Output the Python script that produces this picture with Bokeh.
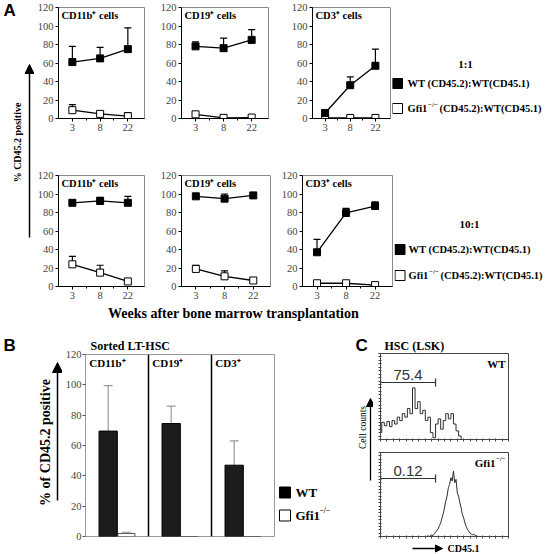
from math import pi
from bokeh.plotting import figure
from bokeh.layouts import row, column
from bokeh.models import (Range1d, Label, Arrow, NormalHead, Whisker, TeeHead, Title,
                          ColumnDataSource, FixedTicker, Span, LinearAxis)
from bokeh.embed import file_html
from bokeh.resources import INLINE

SERIF = "Liberation Serif"
SANS = "Liberation Sans"

# ---------------- data ----------------
weeks = ["3", "8", "22"]
cell_titles = ["CD11b\u207a cells", "CD19\u207a cells", "CD3\u207a cells"]

# ratio 1:1
wt_1to1_cd11b = [61, 65, 75]
wt_1to1_cd11b_sd = [17, 12, 23]
ko_1to1_cd11b = [9, 5, 2.5]
ko_1to1_cd11b_sd = [6, 0, 4]
wt_1to1_cd19 = [78, 76, 85]
wt_1to1_cd19_sd = [5, 11, 11]
ko_1to1_cd19 = [4.5, 0.7, 1]
ko_1to1_cd19_sd = [0, 0, 0]
wt_1to1_cd3 = [6, 36, 57]
wt_1to1_cd3_sd = [0, 9, 18]
ko_1to1_cd3 = [0.6, 0.6, 0.6]
ko_1to1_cd3_sd = [0, 0, 0]

# ratio 10:1
wt_10to1_cd11b = [90.5, 92.5, 90.5]
wt_10to1_cd11b_sd = [0, 4, 7]
ko_10to1_cd11b = [24, 15, 5.5]
ko_10to1_cd11b_sd = [8.5, 8, 0]
wt_10to1_cd19 = [97.5, 95, 98.5]
wt_10to1_cd19_sd = [0, 5, 0]
ko_10to1_cd19 = [19, 11, 6.5]
ko_10to1_cd19_sd = [4, 6, 3]
wt_10to1_cd3 = [37, 79.5, 87]
wt_10to1_cd3_sd = [14, 5, 4.5]
ko_10to1_cd3 = [3.5, 3.5, 1.5]
ko_10to1_cd3_sd = [0, 0, 0]

# panel B
b_categories = ["CD11b\u207a", "CD19\u207a", "CD3\u207a"]
b_wt = [69.5, 74.5, 47]
b_wt_sd = [30, 11.5, 16]
b_ko = [2, 0, 0]
b_ko_sd = [0.8, 0, 0]

# panel C (histograms, % of frame height per channel bin)
wt_hist_bin = 2
wt_hist = [8, 20, 16, 21, 15, 22, 18, 26, 22, 30, 26, 36, 30, 60, 36, 44, 30,
           34, 22, 26, 8, 2, 18, 24, 12, 22, 30, 24, 30, 18, 10, 4, 0]
ko_hist_first_channel = 36
ko_hist = [0, 1, 0, 1, 2, 1, 3, 5, 7, 9, 13, 16, 22, 27, 34, 42, 48, 58, 62, 70,
           66, 78, 64, 68, 52, 48, 40, 34, 26, 22, 16, 12, 8, 6, 4, 3, 2, 3, 1, 1, 0]
gate_lo = [0, 0]
gate_hi = [43, 43]
gate_pct = ["75.4", "0.12"]


# ---------------- helpers ----------------
def base_fig(w, h, bl, br, bt, bb, xr, yr):
    p = figure(width=w, height=h, x_range=Range1d(*xr), y_range=Range1d(*yr),
               toolbar_location=None, output_backend="svg", title=None,
               min_border_left=bl, min_border_right=br, min_border_top=bt,
               min_border_bottom=bb, x_axis_type=None, y_axis_type=None)
    p.frame_align = False
    p.background_fill_color = "white"
    p.border_fill_color = "white"
    g = dict(bl=bl, bt=bt, fw=w - bl - br, fh=h - bt - bb,
             x0=xr[0], x1=xr[1], y0=yr[0], y1=yr[1])
    return p, g


def text_fig(w, h):
    p, g = base_fig(w, h, 0, 0, 0, 0, (0, w), (0, h))
    p.outline_line_color = None
    return p


def lab(p, x, y, text, size, bold=False, font=SERIF, align="left",
        baseline="middle", angle=0, color="black"):
    p.add_layout(Label(x=x, y=y, text=text, text_font=font,
                       text_font_size=f"{size}px",
                       text_font_style="bold" if bold else "normal",
                       text_align=align, text_baseline=baseline, angle=angle,
                       text_color=color))


def put(p, x, ytop, text, size, **kw):
    lab(p, x, p.height - ytop, text, size, **kw)


def fxy(g, dx, dy):
    x = g["x0"] + dx / g["fw"] * (g["x1"] - g["x0"])
    y = g["y1"] - dy / g["fh"] * (g["y1"] - g["y0"])
    return x, y


def put_f(p, g, dx, dy, text, size, **kw):
    x, y = fxy(g, dx, dy)
    lab(p, x, y, text, size, **kw)


def arrow(p, x0, y0, x1, y1, size=9, lw=1.5):
    h = p.height
    p.add_layout(Arrow(x_start=x0, y_start=h - y0, x_end=x1, y_end=h - y1,
                       end=NormalHead(size=size, fill_color="black", line_color="black"),
                       line_width=lw, line_color="black"))


def square(p, x, ytop, size, fill):
    p.scatter(x=[x], y=[p.height - ytop], marker="square", size=size,
              fill_color=fill, line_color="black", line_width=1)


def a_plot(w, h, bl, br, bt, bb, title, wt, wt_sd, ko, ko_sd):
    p, g = base_fig(w, h, bl, br, bt, bb, (-0.5, 2.6), (0, 120))
    p.outline_line_color = "#8a8a8a"
    ya = LinearAxis(ticker=FixedTicker(ticks=[0, 20, 40, 60, 80, 100, 120], minor_ticks=[]))
    xs = list(range(len(weeks)))
    xa = LinearAxis(ticker=FixedTicker(ticks=xs, minor_ticks=[i + 0.5 for i in xs[:-1]]),
                    major_label_overrides={i: wk for i, wk in enumerate(weeks)})
    for ax in (ya, xa):
        ax.axis_line_color = "black"
        ax.major_tick_out = 3
        ax.major_tick_in = 0
        ax.minor_tick_out = 2
        ax.minor_tick_in = 0
        ax.major_label_text_font = SERIF
        ax.major_label_text_font_size = "10.5px"
        ax.major_label_standoff = 2
    p.add_layout(ya, "left")
    p.add_layout(xa, "below")
    for vals, sds, fill in ((ko, ko_sd, "white"), (wt, wt_sd, "black")):
        src = ColumnDataSource(dict(x=xs, y=vals))
        p.line("x", "y", source=src, line_color="black", line_width=1.3)
        ex = [x for x, s in zip(xs, sds) if s > 0]
        elo = [v for v, s in zip(vals, sds) if s > 0]
        ehi = [v + s for v, s in zip(vals, sds) if s > 0]
        if ex:
            esrc = ColumnDataSource(dict(x=ex, lo=elo, hi=ehi))
            p.add_layout(Whisker(base="x", lower="lo", upper="hi", source=esrc,
                                 line_color="black", line_width=1.2,
                                 upper_head=TeeHead(size=7, line_color="black", line_width=1.2),
                                 lower_head=None))
        p.scatter("x", "y", source=src, marker="square", size=7, fill_color=fill,
                  line_color="black", line_width=1)
    put_f(p, g, 3, 8, title, 10.5, bold=True)
    return p


def legend_a(w, h, ratio, rx, ry, sx, tx, y1, y2):
    p = text_fig(w, h)
    put(p, rx, ry, ratio, 11, bold=True, align="center")
    square(p, sx, y1, 10, "black")
    square(p, sx, y2, 10, "white")
    put(p, tx, y1, "WT (CD45.2):WT(CD45.1)", 10.5, bold=True)
    put(p, tx, y2, "Gfi1", 10.5, bold=True)
    put(p, tx + 20.5, y2 - 4, "\u2212/\u2212", 7, bold=True)
    put(p, tx + 32, y2, "(CD45.2):WT(CD45.1)", 10.5, bold=True)
    return p


# ---------------- panel A ----------------
leftA = text_fig(34, 322)
put(leftA, 3, 10, "A", 17, bold=True, font=SANS)
put(leftA, 17, 142, "% CD45.2 positive", 10, bold=True, align="center", angle=pi / 2)
arrow(leftA, 29, 237, 29, 64)

P1t = a_plot(120, 140, 23, 10, 7, 22, cell_titles[0], wt_1to1_cd11b, wt_1to1_cd11b_sd, ko_1to1_cd11b, ko_1to1_cd11b_sd)
P2t = a_plot(131, 140, 27, 17, 7, 22, cell_titles[1], wt_1to1_cd19, wt_1to1_cd19_sd, ko_1to1_cd19, ko_1to1_cd19_sd)
P3t = a_plot(107, 140, 27, 2, 7, 22, cell_titles[2], wt_1to1_cd3, wt_1to1_cd3_sd, ko_1to1_cd3, ko_1to1_cd3_sd)
Lt = legend_a(159, 140, "1:1", 73, 63, 5, 15, 83, 108)

P1b = a_plot(120, 164, 23, 10, 35, 18, cell_titles[0], wt_10to1_cd11b, wt_10to1_cd11b_sd, ko_10to1_cd11b, ko_10to1_cd11b_sd)
P2b = a_plot(121, 164, 27, 5, 35, 18, cell_titles[1], wt_10to1_cd19, wt_10to1_cd19_sd, ko_10to1_cd19, ko_10to1_cd19_sd)
P3b = a_plot(119, 164, 27, 2, 35, 18, cell_titles[2], wt_10to1_cd3, wt_10to1_cd3_sd, ko_10to1_cd3, ko_10to1_cd3_sd)
Lb = legend_a(157, 164, "10:1", 75, 83, 5.5, 14, 109, 135)

xlab = text_fig(517, 18)
put(xlab, 199, 9, "Weeks after bone marrow transplantation", 14, bold=True, align="center")

colA = column(row(P1t, P2t, P3t, Lt, spacing=0), row(P1b, P2b, P3b, Lb, spacing=0), xlab, spacing=0)
rowA = row(leftA, colA, spacing=0)

# ---------------- panel B ----------------
Bleft = text_fig(62, 232)
put(Bleft, 3, 23, "B", 17, bold=True, font=SANS)
put(Bleft, 45, 120, "% of CD45.2 positive", 14, bold=True, align="center", angle=pi / 2)
arrow(Bleft, 57, 178, 57, 40, size=10)

nb = len(b_categories)
Bplot, gb = base_fig(215, 232, 21, 3, 32, 18, (0, nb), (0, 120))
Bplot.outline_line_color = "#9a9a9a"
Bplot.add_layout(Title(text="Sorted LT-HSC", align="left", offset=5, standoff=3,
                       text_color="black", text_font=SERIF, text_font_size="12px",
                       text_font_style="bold"), "above")
yb = LinearAxis(ticker=FixedTicker(ticks=[0, 20, 40, 60, 80, 100, 120], minor_ticks=[]))
yb.axis_line_color = "#9a9a9a"
yb.major_tick_line_color = "#555555"
yb.major_tick_out = 3
yb.major_tick_in = 0
yb.major_label_text_font = SERIF
yb.major_label_text_font_size = "10.5px"
yb.major_label_standoff = 1
Bplot.add_layout(yb, "left")
for i in range(1, nb):
    Bplot.add_layout(Span(location=i, dimension="height", line_color="black", line_width=1.5))
bx_wt = [i + 0.36 for i in range(nb)]
bx_ko = [i + 0.65 for i in range(nb)]
Bplot.vbar(x=bx_wt, top=b_wt, bottom=0, width=0.29, fill_color="#1c1c1c", line_color="black")
Bplot.vbar(x=bx_ko, top=b_ko, bottom=0, width=0.27, fill_color="white", line_color="#555555")
for xs_, vals, sds in ((bx_wt, b_wt, b_wt_sd), (bx_ko, b_ko, b_ko_sd)):
    ex = [x for x, s in zip(xs_, sds) if s > 0]
    elo = [v for v, s in zip(vals, sds) if s > 0]
    ehi = [v + s for v, s in zip(vals, sds) if s > 0]
    Bplot.add_layout(Whisker(base="x", lower="lo", upper="hi",
                             source=ColumnDataSource(dict(x=ex, lo=elo, hi=ehi)),
                             line_color="#9a9a9a", line_width=1.2,
                             upper_head=TeeHead(size=9, line_color="#9a9a9a", line_width=1.2),
                             lower_head=None))
for i, c in enumerate(b_categories):
    lab(Bplot, i + 0.06, fxy(gb, 0, 8)[1], c, 11, bold=True)

Bleg = text_fig(68, 232)
square(Bleg, 7.5, 170, 11, "black")
square(Bleg, 7.5, 193, 11, "white")
put(Bleg, 18, 170, "WT", 13, bold=True)
put(Bleg, 18, 193, "Gfi1", 13, bold=True)
put(Bleg, 42, 188, "\u2212/\u2212", 7.5, bold=True)

# ---------------- panel C ----------------
Cleft = text_fig(28, 232)
put(Cleft, 10, 23, "C", 17, bold=True, font=SANS)
put(Cleft, 17, 105, "Cell counts", 9.5, align="center", angle=pi / 2)
arrow(Cleft, 25, 158, 25, 76, size=8, lw=1.3)


def c_plot(h, bt, bb, gate_i):
    p, g = base_fig(178, h, 7, 43, bt, bb, (0, 100), (0, 100))
    p.outline_line_color = "#444444"
    la = LinearAxis(ticker=FixedTicker(ticks=[], minor_ticks=list(range(0, 101, 4))))
    ba = LinearAxis(ticker=FixedTicker(ticks=[], minor_ticks=list(range(0, 101, 5))))
    for ax in (la, ba):
        ax.axis_line_color = "#444444"
        ax.minor_tick_out = 2
        ax.minor_tick_in = 1
        ax.minor_tick_line_color = "#444444"
        ax.major_label_standoff = 0
    p.add_layout(la, "left")
    p.add_layout(ba, "below")
    gy = fxy(g, 0, 29 if gate_i == 0 else 26)[1]
    p.add_layout(Whisker(dimension="width", base="b", lower="lo", upper="hi",
                         source=ColumnDataSource(dict(b=[gy], lo=[gate_lo[gate_i]], hi=[gate_hi[gate_i]])),
                         line_color="#333333", line_width=1.2,
                         upper_head=TeeHead(size=8, line_color="#333333", line_width=1.2),
                         lower_head=TeeHead(size=8, line_color="#333333", line_width=1.2)))
    gx = (gate_lo[gate_i] + gate_hi[gate_i]) / 2
    lab(p, gx, gy + 3 / g["fh"] * 100, gate_pct[gate_i], 15, font=SANS, align="center",
        baseline="bottom", color="#333333")
    return p, g


Ctop, gct = c_plot(123, 31, 6, 0)
Ctop.step(x=[i * wt_hist_bin for i in range(len(wt_hist))], y=wt_hist, mode="center",
          line_color="#2e2e2e", line_width=1)
Ctop.add_layout(Title(text="HSC (LSK)", align="left", offset=4, standoff=1,
                      text_color="black", text_font=SERIF, text_font_size="12px",
                      text_font_style="bold"), "above")
put_f(Ctop, gct, 125, 10, "WT", 11, bold=True, align="right")

Cbot, gcb = c_plot(95, 7, 4, 1)
Cbot.line(x=list(range(ko_hist_first_channel, ko_hist_first_channel + len(ko_hist))), y=ko_hist,
          line_color="#2e2e2e", line_width=1)
put_f(Cbot, gcb, 115, 10, "Gfi1", 11, bold=True, align="right")
put_f(Cbot, gcb, 125, 6, "\u2212/\u2212", 6.5, bold=True, align="right")

Cxlab = text_fig(178, 14)
arrow(Cxlab, 39, 8, 69, 8, size=7, lw=1.3)
put(Cxlab, 74, 8, "CD45.1", 10, bold=True)

rowBC = row(Bleft, Bplot, Bleg, Cleft, column(Ctop, Cbot, Cxlab, spacing=0), spacing=0)

root = column(rowA, rowBC, spacing=0)

open("out.html", "w").write(file_html(root, INLINE))
